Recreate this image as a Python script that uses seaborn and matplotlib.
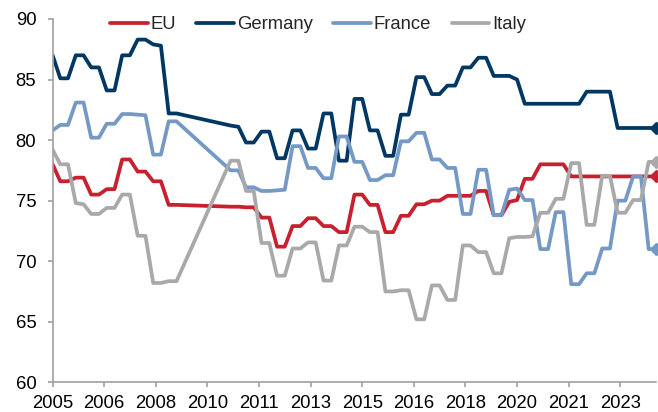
import pandas as pd
import seaborn as sns
import matplotlib.pyplot as plt

# Quarterly readings; nothing between spring 2009 and autumn 2010
quarters = pd.date_range('2005-01-01', '2024-07-01', freq='QS')
quarters = quarters[(quarters < '2009-04-01') | (quarters > '2010-07-01')]

eu = [78.0, 76.6, 76.6, 76.9, 76.9, 75.5, 75.5, 75.95, 75.95, 78.4, 78.4, 77.4, 77.4, 76.6, 76.6, 74.65, 74.65,
      74.5, 74.5, 74.45, 74.45, 73.6, 73.6, 71.2, 71.2,
      72.9, 72.9, 73.55, 73.55, 72.9, 72.9, 72.4, 72.4,
      75.5, 75.5, 74.65, 74.65, 72.4, 72.4, 73.75, 73.75,
      74.7, 74.7, 75.0, 75.0, 75.4, 75.4, 75.4, 75.4,
      75.8, 75.8, 73.8, 73.8, 74.9, 75.05, 76.8, 76.8,
      78.0, 78.0, 78.0, 78.0, 77.0, 77.0, 77.0, 77.0,
      77.0, 77.0, 77.0, 77.0, 77.0, 77.0, 77.0, 77.0]

germany = [87.0, 85.1, 85.1, 87.0, 87.0, 86.0, 86.0, 84.1, 84.1, 87.0, 87.0, 88.3, 88.3, 87.9, 87.8, 82.2, 82.2,
           81.2, 81.1, 79.8, 79.8, 80.7, 80.7, 78.5, 78.5,
           80.8, 80.8, 79.3, 79.3, 82.2, 82.2, 78.3, 78.3,
           83.4, 83.4, 80.8, 80.8, 78.7, 78.7, 82.1, 82.1,
           85.2, 85.2, 83.8, 83.8, 84.5, 84.5, 86.0, 86.0,
           86.8, 86.8, 85.3, 85.3, 85.3, 85.0, 83.0, 83.0,
           83.0, 83.0, 83.0, 83.0, 83.0, 83.0, 84.0, 84.0,
           84.0, 84.0, 81.0, 81.0, 81.0, 81.0, 81.0, 81.0]

france = [80.8, 81.25, 81.25, 83.1, 83.1, 80.2, 80.2, 81.35, 81.35, 82.15, 82.15, 82.1, 82.05, 78.8, 78.8, 81.55, 81.55,
          77.5, 77.5, 76.1, 76.1, 75.8, 75.8, 75.85, 75.9,
          79.5, 79.5, 77.7, 77.7, 76.85, 76.85, 80.3, 80.3,
          78.2, 78.2, 76.7, 76.7, 77.1, 77.1, 79.9, 79.9,
          80.6, 80.6, 78.4, 78.4, 77.7, 77.7, 73.9, 73.9,
          77.55, 77.55, 73.8, 73.8, 75.9, 76.0, 75.05, 75.05,
          71.0, 71.0, 74.05, 74.05, 68.1, 68.1, 69.0, 69.0,
          71.05, 71.05, 75.0, 75.0, 77.0, 77.0, 71.0, 71.0]

italy = [79.2, 78.0, 78.0, 74.8, 74.7, 73.9, 73.9, 74.4, 74.4, 75.5, 75.5, 72.1, 72.1, 68.2, 68.2, 68.35, 68.35,
         78.3, 78.3, 75.8, 75.8, 71.5, 71.5, 68.8, 68.8,
         71.05, 71.05, 71.55, 71.55, 68.4, 68.4, 71.3, 71.3,
         72.85, 72.85, 72.4, 72.4, 67.5, 67.5, 67.6, 67.6,
         65.2, 65.2, 68.0, 68.0, 66.8, 66.8, 71.3, 71.3,
         70.75, 70.75, 69.0, 69.0, 71.9, 72.0, 72.0, 72.05,
         74.0, 74.0, 75.15, 75.15, 78.1, 78.1, 73.0, 73.0,
         77.05, 77.05, 74.0, 74.0, 75.05, 75.05, 78.2, 78.2]

series_names = ['EU', 'Germany', 'France', 'Italy']
colours = ['#C8202F', '#003763', '#7599C5', '#A9A9A9']

tick_dates = ['2005-01-01', '2006-09-01', '2008-05-01', '2010-01-01', '2011-09-01', '2013-05-01',
              '2015-01-01', '2016-09-01', '2018-05-01', '2020-01-01', '2021-09-01', '2023-05-01']
tick_labels = ['2005', '2006', '2008', '2010', '2011', '2013',
               '2015', '2016', '2018', '2020', '2021', '2023']

# Long table for seaborn
wide = pd.DataFrame({'date': quarters, 'EU': eu, 'Germany': germany, 'France': france, 'Italy': italy})
df = wide.melt(id_vars='date', var_name='series', value_name='value')
palette = dict(zip(series_names, colours))

sns.set_style('white')
plt.rcParams['font.family'] = ['Liberation Sans', 'DejaVu Sans']
FS = 13.3
AXIS_GREY = '#A0A0A0'

fig, ax = plt.subplots(figsize=(6.58, 4.12), dpi=100)
fig.subplots_adjust(left=0.080, right=0.9975, bottom=0.0721, top=0.9539)

sns.lineplot(data=df, x='date', y='value', hue='series', hue_order=series_names,
             palette=palette, linewidth=2.7, estimator=None, ax=ax)

# Diamond on the latest reading of each series
for name in series_names:
    last = wide.iloc[-1]
    ax.plot(last['date'], last[name], marker='D', ms=6.5, color=palette[name],
            clip_on=False, zorder=5)

ax.set_ylim(60, 90)
ax.set_yticks(range(60, 91, 5))
ax.set_xlim(pd.Timestamp('2005-01-01'), quarters[-1])
ax.set_xticks(pd.to_datetime(tick_dates))
ax.set_xticklabels(tick_labels)
ax.set_xlabel('')
ax.set_ylabel('')

for side in ['top', 'right']:
    ax.spines[side].set_visible(False)
for side in ['left', 'bottom']:
    ax.spines[side].set_color(AXIS_GREY)
    ax.spines[side].set_linewidth(1.2)
ax.tick_params(axis='both', colors=AXIS_GREY, width=1.2, length=3.3, labelsize=FS, labelcolor='black')
ax.tick_params(axis='y', pad=8.5)
ax.tick_params(axis='x', pad=5.5, bottom=True)
ax.tick_params(axis='y', left=True)

handles, labels = ax.get_legend_handles_labels()
ax.legend(handles[:4], labels[:4], loc='center left', bbox_to_anchor=(0.095, 0.9835), ncol=4,
          frameon=False, fontsize=FS, handlelength=2.05, handletextpad=0.15,
          columnspacing=1.1, borderpad=0, borderaxespad=0)

plt.savefig('out.png', dpi=100)
